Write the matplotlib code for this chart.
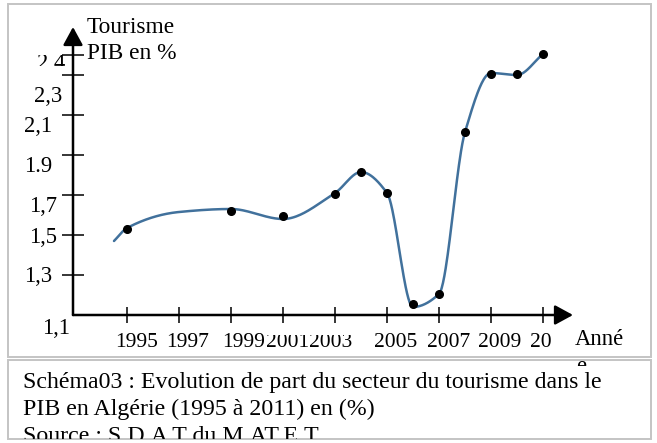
import numpy as np
import matplotlib
matplotlib.use('Agg')
from matplotlib import pyplot as plt
from matplotlib.patches import Rectangle
from matplotlib.transforms import Bbox, TransformedBbox

plt.rcParams['font.family'] = ['Liberation Serif', 'DejaVu Serif']

# points
years = [1995, 1999, 2001, 2003, 2004, 2005, 2006, 2007, 2008, 2009, 2010, 2011]
values = [1.53, 1.62, 1.595, 1.705, 1.815, 1.71, 1.155, 1.205, 2.015, 2.305, 2.305, 2.405]

# hand drawn curve (passes near the points, starts a bit before 1995)
curve_years = [1994.5, 1995, 1997, 1999, 2001, 2003, 2004, 2005, 2006, 2007, 2008, 2009, 2010, 2011]
curve_values = [1.47, 1.535, 1.615, 1.63, 1.58, 1.71, 1.815, 1.71, 1.14, 1.205, 2.015, 2.31, 2.30, 2.405]

xtick_years = [1995, 1997, 1999, 2001, 2003, 2005, 2007, 2009, 2011]
xtick_labels = ['1995', '1997', '1999', '2001', '2003', '2005', '2007', '2009', '20']
ytick_values = [1.1, 1.3, 1.5, 1.7, 1.9, 2.1, 2.3, 2.4]
ytick_labels = ['1,1', '1,3', '1,5', '1,7', '1.9', '2,1', '2,3', '2,4']

caption = ['Schéma03 : Evolution de part du secteur du tourisme dans le',
           'PIB en Algérie (1995 à 2011) en (%)',
           'Source : S.D.A T du M.AT.E.T']


def smooth_curve(xs, ys, n=40):
    # monotone cubic (Fritsch-Carlson), keeps the drawn curve from dipping
    x = np.asarray(xs, float)
    y = np.asarray(ys, float)
    h = np.diff(x)
    d = np.diff(y) / h
    m = np.zeros_like(y)
    m[0], m[-1] = d[0], d[-1]
    for k in range(1, len(x) - 1):
        if d[k - 1] * d[k] > 0:
            w1 = 2 * h[k] + h[k - 1]
            w2 = h[k] + 2 * h[k - 1]
            m[k] = (w1 + w2) / (w1 / d[k - 1] + w2 / d[k])
    outx, outy = [], []
    t = np.linspace(0, 1, n)
    for k in range(len(x) - 1):
        h00 = 2 * t ** 3 - 3 * t ** 2 + 1
        h10 = t ** 3 - 2 * t ** 2 + t
        h01 = -2 * t ** 3 + 3 * t ** 2
        h11 = t ** 3 - t ** 2
        outx.append(x[k] + t * h[k])
        outy.append(h00 * y[k] + h10 * h[k] * m[k] + h01 * y[k + 1] + h11 * h[k] * m[k + 1])
    return np.concatenate(outx), np.concatenate(outy)


W, H = 657, 443
fig = plt.figure(figsize=(W / 100, H / 100), dpi=100)


def pixel_box(x0, y0, x1, y1):
    # clip box given in picture pixels (origin top-left)
    return TransformedBbox(Bbox.from_extents(x0 / W, 1 - y1 / H, x1 / W, 1 - y0 / H), fig.transFigure)


# background layer in pixel coordinates (frames, caption)
bg = fig.add_axes([0, 0, 1, 1])
bg.set_xlim(0, W)
bg.set_ylim(H, 0)
bg.axis('off')
border = '#c4c4c4'
bg.add_patch(Rectangle((8, 4), 643, 353, fill=False, ec=border, lw=1.4))
bg.add_patch(Rectangle((8, 360), 643, 79, fill=False, ec=border, lw=1.4))

for i, line in enumerate(caption):
    t = bg.text(23, 388 + 27 * i, line, fontsize=17.2, va='baseline', ha='left', clip_on=True)
    t.set_clip_box(pixel_box(0, 0, W, 439))

bg.text(87, 33, 'Tourisme', fontsize=16.8, va='baseline')
bg.text(87, 59, 'PIB en %', fontsize=16.8, va='baseline')
bg.text(575, 345, 'Anné', fontsize=16.3, va='baseline')
# wrapped last letter of "Année", only its top shows inside the caption frame
e_piece = bg.text(576, 372, 'e', fontsize=16.3, va='baseline', clip_on=True)
e_piece.set_clip_box(pixel_box(560, 361, 600, 366))

# data axes, placed so the axis lines sit where they are in the picture
x0, x1 = 1995 - 54 / 26, 1995 + 446 / 26
ax = fig.add_axes([73 / W, 128 / H, 500 / W, 288 / H])
ax.set_xlim(x0, x1)
ax.set_ylim(1.1, 2.54)
ax.patch.set_alpha(0)
for s in ax.spines.values():
    s.set_visible(False)

arrow = dict(arrowstyle='-|>,head_length=1.1,head_width=0.6', lw=1.8, color='black',
             mutation_scale=10, shrinkA=0, shrinkB=0)
ax.annotate('', xy=(0, 1), xytext=(0, 0), xycoords='axes fraction', arrowprops=arrow)
ax.annotate('', xy=(1, 0), xytext=(0, 0), xycoords='axes fraction', arrowprops=arrow)

ax.set_xticks(xtick_years)
ax.set_yticks(ytick_values[1:])
ax.set_xticklabels([])
ax.set_yticklabels([])
ax.tick_params(axis='x', direction='inout', length=11.5, width=1.1, color='black')
ax.tick_params(axis='y', direction='inout', length=16, width=1.1, color='black')

# tick labels, each one sits a little off its tick like in the source
xlab_dx = [-12, -13, -9, -17, -26, -13, -12, -13, -13]
for yr, lab, dx in zip(xtick_years, xtick_labels, xlab_dx):
    t = ax.annotate(lab, xy=(yr, 1.1), xycoords='data', xytext=(dx, -32),
                    textcoords='offset pixels', fontsize=15.5, ha='left', va='baseline',
                    annotation_clip=False, clip_on=True)
    t.set_clip_box(pixel_box(0, 335 if lab in ('2001', '2003') else 300, W, 360))

ylab_dx = [-3, -21, -16, -16, -21, -21, -11, -8]
ylab_dy = [19, 7, 8, 17, 17, 17, 27, 14]
for v, lab, dx, dy in zip(ytick_values, ytick_labels, ylab_dx, ylab_dy):
    t = ax.annotate(lab, xy=(0, v), xycoords=('axes fraction', 'data'), xytext=(dx, -dy),
                    textcoords='offset pixels', fontsize=16.3, ha='right', va='baseline',
                    annotation_clip=False, clip_on=True)
    if lab == '2,4':
        t.set_clip_box(pixel_box(0, 55, 70, 66))
    else:
        t.set_clip_box(pixel_box(0, 0, 72, H))

cx, cy = smooth_curve(curve_years, curve_values)
ax.plot(cx, cy, color='#41719c', lw=1.8, solid_capstyle='round', zorder=3, clip_on=False)
ax.plot(years, values, 'o', color='black', ms=5.5, zorder=4, clip_on=False)

plt.savefig('out.png', dpi=100)
